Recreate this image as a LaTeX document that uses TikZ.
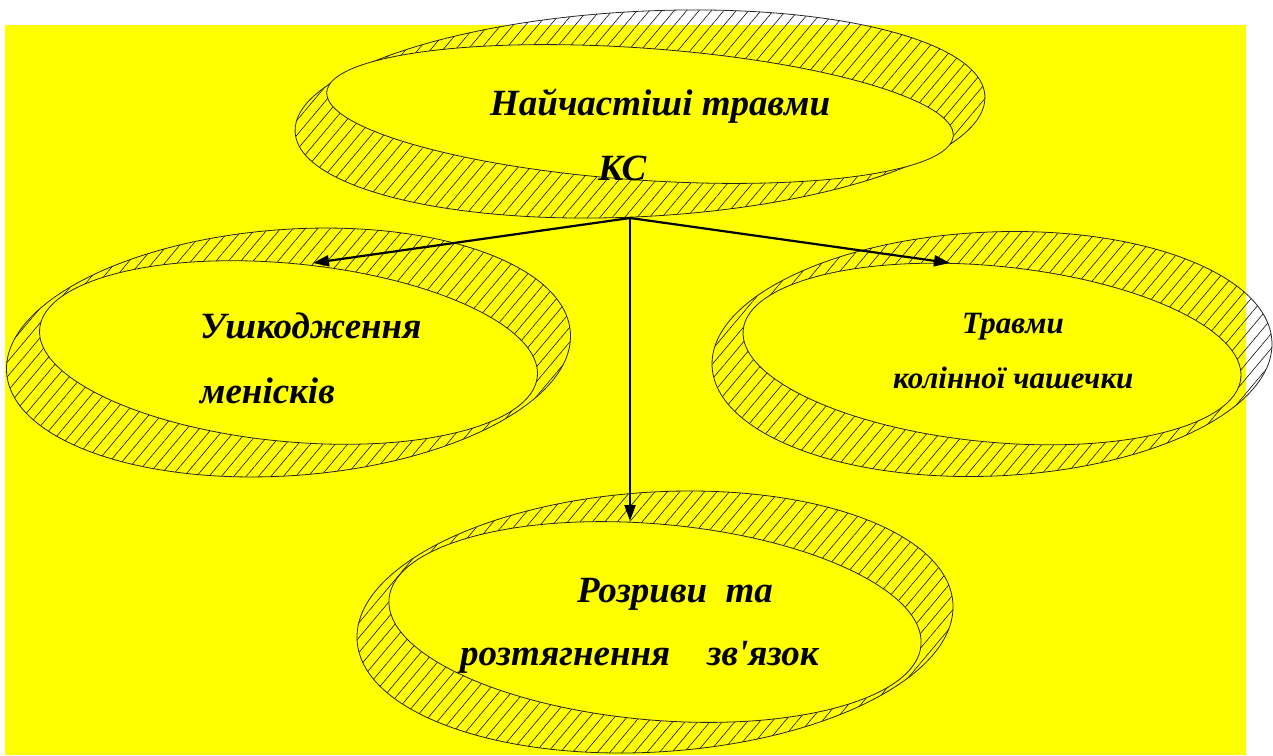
\documentclass[tikz,border=0pt]{standalone}
\usepackage{fontspec}
\setmainfont{Liberation Serif}
\usetikzlibrary{arrows.meta,patterns.meta}
\definecolor{bgyellow}{RGB}{255,255,0}

\begin{document}
\begin{tikzpicture}[x=1pt,y=-1pt,
  ring/.style={draw=black!85,line width=0.8pt,pattern={Lines[angle=50,distance=9.5pt,line width=0.55pt]}},
  hole/.style={draw=black!85,line width=0.8pt,fill=bgyellow},
  lbl/.style={anchor=base west,inner sep=0pt,font=\bfseries\itshape\fontsize{#1}{#1}\selectfont},
  link/.style={line width=2.2pt,-{Triangle[length=16pt,width=11pt]}}]
\useasboundingbox (0,0) rectangle (1273,755);
\fill[bgyellow] (5,25) rectangle (1246,755);

% rings: hatched outer ellipse, plain inner ellipse
\foreach \cx/\cy/\orx/\ory/\oa/\irx/\iry/\ia in
  {640/114/345.4/102.6/3.0/314/66/-4, 288.5/352.5/282.6/123.1/4.1/250/89/-5.5,
   992/354/280.2/122/2.5/250/88/-5.5, 655/622/298.5/129.9/3.6/267/98/-5}{
  \draw[ring,shift={(\cx,\cy)},rotate=\oa] (0,0) ellipse [x radius=\orx, y radius=\ory];
  \draw[hole,shift={(\cx,\cy)},rotate=\ia] (0,0) ellipse [x radius=\irx, y radius=\iry];
}

% labels
\node[lbl=37] (top1) at (490,115) {Найчастіші травми};
\node[lbl=37] (top2) at (598,180) {КС};
\node[lbl=37] (men1) at (200,338) {Ушкодження};
\node[lbl=37] (men2) at (200,403) {менісків};
\node[lbl=31] (pat1) at (962,333) {Травми};
\node[lbl=31] (pat2) at (893,388) {колінної чашечки};
\node[lbl=37] (lig1) at (577,602) {Розриви\ \ та};
\node[lbl=37] (lig2) at (460,665) {розтягнення\ \ \ \ зв\textquotesingle язок};

% arrows
\coordinate (src) at (630,218);
\coordinate (menin) at (313,263);
\coordinate (patin) at (950,263);
\coordinate (ligin) at (630,521);
\draw[link] (src) -- (menin);
\draw[link] (src) -- (patin);
\draw[link] (src) -- (ligin);
\end{tikzpicture}
\end{document}
